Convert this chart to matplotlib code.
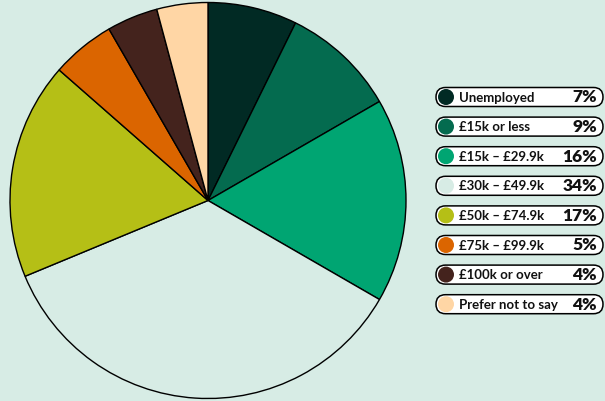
import matplotlib
matplotlib.use("Agg")
import matplotlib.pyplot as plt
from matplotlib.patches import FancyBboxPatch, Circle

categories = ["Unemployed", "£15k or less", "£15k – £29.9k", "£30k – £49.9k",
              "£50k – £74.9k", "£75k – £99.9k", "£100k or over", "Prefer not to say"]
shares = [7, 9, 16, 34, 17, 5, 4, 4]
pct_labels = ["7%", "9%", "16%", "34%", "17%", "5%", "4%", "4%"]
colors = ["#012a24", "#046b4f", "#00a572", "#d7ece5",
          "#b5bf16", "#db6500", "#44231d", "#ffd6a5"]
bg = "#d7ece5"

W, H = 605, 401
fig = plt.figure(figsize=(W / 100, H / 100), dpi=100)
fig.patch.set_facecolor(bg)

# pie
cx, cy, r = 208, 200.5, 198
ax = fig.add_axes([(cx - r) / W, (H - cy - r) / H, 2 * r / W, 2 * r / H])
ax.pie(shares, colors=colors, startangle=90, counterclock=False,
       wedgeprops=dict(edgecolor="black", linewidth=1.0))
ax.set_aspect("equal")
ax.set_xlim(-1, 1)
ax.set_ylim(-1, 1)
ax.axis("off")

# legend pills drawn in pixel space
lax = fig.add_axes([0, 0, 1, 1])
lax.set_xlim(0, W)
lax.set_ylim(H, 0)
lax.axis("off")

x0, x1 = 436, 603
ph = 19
y_start, step = 97, 29.6
for i, (cat, lab, col) in enumerate(zip(categories, pct_labels, colors)):
    yc = y_start + i * step
    lax.add_patch(FancyBboxPatch((x0, yc - ph / 2), x1 - x0, ph,
                                 boxstyle=f"round,pad=0,rounding_size={ph/2}",
                                 facecolor="white", edgecolor="black", linewidth=1.1))
    lax.add_patch(Circle((446, yc), 8, facecolor=col, edgecolor="none"))
    lax.text(459, yc + 0.5, cat, fontsize=9.5, fontfamily="Lato", fontweight="bold",
             va="center", ha="left", color="#111111")
    lax.text(597, yc + 0.5, lab, fontsize=12.5, fontfamily="Lato", fontweight="heavy",
             va="center", ha="right", color="#111111")

fig.savefig("out.png", dpi=100, facecolor=bg)
